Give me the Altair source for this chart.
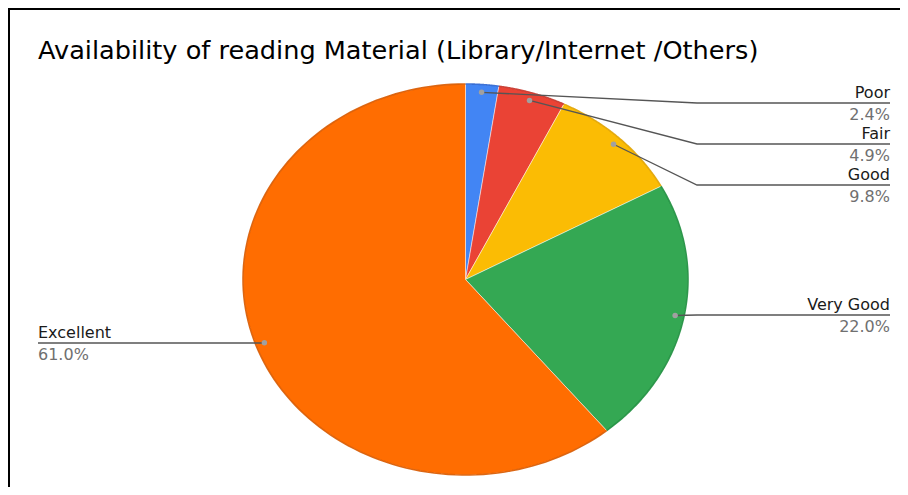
import altair as alt
import pandas as pd

# ---- data ----
CATEGORIES = ["Poor", "Fair", "Good", "Very Good", "Excellent"]
PERCENTS = [2.4, 4.9, 9.8, 22.0, 61.0]
TITLE = "Availability of reading Material (Library/Internet /Others)"

# ---- styles ----
COLORS = ["#4285F4", "#EA4335", "#FBBC04", "#34A853", "#FF6D01"]
EDGE_COLORS = ["#2f66d0", "#c5352a", "#e0a300", "#1e8e3e", "#d85a00"]
FONT = "DejaVu Sans"

# ---- layout (canvas pixels) ----
W, H = 892, 479
CX, CY, RX, RY = 457.5, 271.5, 222.5, 195.5
N = 120
DOT_R = 0.96
LABEL_LINE_Y = [95, 136, 177, 307, 335]
ELBOW_R, END_R, END_L = 689, 882, 30

df = pd.DataFrame({
    "category": CATEGORIES,
    "value": PERCENTS,
    "order": list(range(len(CATEGORIES))),
    "ly": LABEL_LINE_Y,
})

xs = alt.Scale(domain=[0, W], nice=False, zero=False)
ys = alt.Scale(domain=[0, H], nice=False, zero=False, reverse=True)
fill_scale = alt.Scale(domain=CATEGORIES, range=COLORS)
edge_scale = alt.Scale(domain=CATEGORIES, range=EDGE_COLORS)

base = alt.Chart(df).transform_joinaggregate(
    total="sum(value)"
).transform_window(
    cum="sum(value)", sort=[alt.SortField("order", order="ascending")]
).transform_calculate(
    t0="(datum.cum - datum.value) / datum.total",
    t1="datum.cum / datum.total",
    mid="PI * (2 * datum.cum - datum.value) / datum.total",
    pct="format(datum.value, '.1f') + '%'",
)

pie_pts = base.transform_calculate(
    ks=f"sequence(-1, {N + 2})"
).transform_flatten(["ks"], as_=["k"]).transform_calculate(
    a=f"2 * PI * (datum.t0 + (datum.t1 - datum.t0) * clamp(datum.k, 0, {N}) / {N})",
    edge=f"datum.k >= 0 && datum.k <= {N}",
).transform_calculate(
    px=f"datum.edge ? {CX} + {RX} * sin(datum.a) : {CX}",
    py=f"datum.edge ? {CY} - {RY} * cos(datum.a) : {CY}",
)

X = alt.X("px:Q", scale=xs, axis=None)
Y = alt.Y("py:Q", scale=ys, axis=None)

fill = pie_pts.mark_line(
    filled=True, stroke="white", strokeWidth=0.8, strokeOpacity=0.6
).encode(
    x=X, y=Y, order="k:Q",
    fill=alt.Fill("category:N", scale=fill_scale, legend=None),
)

edge = pie_pts.transform_filter("datum.edge").mark_line(
    strokeWidth=1.6, strokeOpacity=0.9
).encode(
    x=X, y=Y, order="k:Q",
    stroke=alt.Stroke("category:N", scale=edge_scale, legend=None),
)

pts = base.transform_calculate(
    dx=f"{CX} + {DOT_R * RX} * sin(datum.mid)",
    dy=f"{CY} - {DOT_R * RY} * cos(datum.mid)",
    right="sin(datum.mid) > 0",
)

leaders = pts.transform_calculate(
    js="sequence(0, 3)"
).transform_flatten(["js"], as_=["j"]).transform_calculate(
    px=f"datum.j == 0 ? datum.dx : (datum.j == 1 ? (datum.right ? {ELBOW_R} : datum.dx) : (datum.right ? {END_R} : {END_L}))",
    py="datum.j == 0 ? datum.dy : datum.ly",
).mark_line(color="#555555", strokeWidth=1.3).encode(
    x=X, y=Y, order="j:Q", detail="category:N"
)

dots = pts.mark_circle(size=30, color="#a0a0a0", opacity=1).encode(
    x=alt.X("dx:Q", scale=xs, axis=None),
    y=alt.Y("dy:Q", scale=ys, axis=None),
)

label_pos = pts.transform_calculate(
    ty="datum.ly - 5", py2="datum.ly + 17"
)

right_names = label_pos.transform_filter("datum.right").mark_text(
    align="right", baseline="alphabetic", font=FONT, fontSize=16, color="#1a1a1a"
).encode(x=alt.value(END_R), y=alt.Y("ty:Q", scale=ys, axis=None), text="category:N")

right_pct = label_pos.transform_filter("datum.right").mark_text(
    align="right", baseline="alphabetic", font=FONT, fontSize=16, color="#707070"
).encode(x=alt.value(END_R), y=alt.Y("py2:Q", scale=ys, axis=None), text="pct:N")

left_names = label_pos.transform_filter("!datum.right").mark_text(
    align="left", baseline="alphabetic", font=FONT, fontSize=16, color="#1a1a1a"
).encode(x=alt.value(END_L), y=alt.Y("ty:Q", scale=ys, axis=None), text="category:N")

left_pct = label_pos.transform_filter("!datum.right").mark_text(
    align="left", baseline="alphabetic", font=FONT, fontSize=16, color="#707070"
).encode(x=alt.value(END_L), y=alt.Y("py2:Q", scale=ys, axis=None), text="pct:N")

one = alt.Chart(pd.DataFrame({"a": [0]}))
title = one.mark_text(
    text=TITLE, align="left", baseline="alphabetic", font=FONT, fontSize=25.6, color="#000000"
).encode(x=alt.value(30), y=alt.value(51))

border_left = one.mark_rule(color="black", strokeWidth=2).encode(
    x=alt.value(1), y=alt.value(0), y2=alt.value(H)
)
border_top = one.mark_rule(color="black", strokeWidth=2).encode(
    y=alt.value(1), x=alt.value(0), x2=alt.value(W)
)

chart = alt.layer(
    fill, edge, leaders, dots, right_names, right_pct, left_names, left_pct,
    title, border_left, border_top,
).properties(
    width=W, height=H, padding=0,
    autosize=alt.AutoSizeParams(type="none"),
    background="white",
).configure_view(stroke=None)

chart.save("out.html", embed_options={"renderer": "svg", "actions": False})
